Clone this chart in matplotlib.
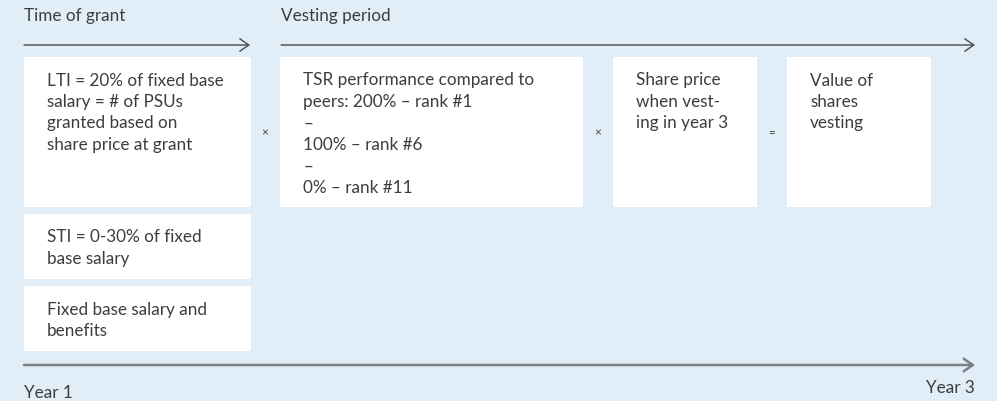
"""
LTI / STI remuneration diagram: time of grant, vesting period and value of shares.
"""

import matplotlib.pyplot as plt
from matplotlib.patches import Rectangle

plt.rcParams["font.family"] = ["Lato", "DejaVu Sans"]

# Texts of the diagram
phase_labels = ["Time of grant", "Vesting period"]
year_labels = ["Year 1", "Year 3"]
grant_boxes = [
    "LTI = 20% of fixed base\nsalary = # of PSUs\ngranted based on\nshare price at grant",
    "STI = 0-30% of fixed\nbase salary",
    "Fixed base salary and\nbenefits",
]
vesting_boxes = [
    "TSR performance compared to\npeers: 200% \u2013 rank #1\n\u2013\n100% \u2013 rank #6\n\u2013\n0% \u2013 rank #11",
    "Share price\nwhen vest-\ning in year 3",
    "Value of\nshares\nvesting",
]
operators = ["\u00d7", "\u00d7", "="]

# Layout in pixels (x0, x1, y0, y1)
grant_geom = [(24, 251, 57, 207), (24, 251, 214, 279), (24, 251, 286, 351)]
vesting_geom = [(280, 583, 57, 207), (613, 757, 57, 207), (787, 931, 57, 207)]
op_x = [265, 598, 772]

BG = "#e1eef8"
TXT = "#3d3d3d"
FS = 12.3

fig = plt.figure(figsize=(9.97, 4.01), dpi=100, facecolor=BG)
ax = fig.add_axes([0, 0, 1, 1])
ax.set_xlim(0, 997)
ax.set_ylim(401, 0)
ax.axis("off")
ax.set_facecolor(BG)


def box(geom, text):
    x0, x1, y0, y1 = geom
    ax.add_patch(Rectangle((x0, y0), x1 - x0, y1 - y0, facecolor="white", edgecolor="none"))
    ax.text(x0 + 23, y0 + 15.5, text, ha="left", va="top", fontsize=FS, color=TXT,
            linespacing=1.42)


for g, t in zip(grant_geom, grant_boxes):
    box(g, t)
for g, t in zip(vesting_geom, vesting_boxes):
    box(g, t)

for x, op in zip(op_x, operators):
    ax.text(x, 133, op, ha="center", va="center", fontsize=8.5, color=TXT)

# phase headers and arrows
ax.text(24, 16, phase_labels[0], ha="left", va="center", fontsize=FS, color=TXT)
ax.text(281, 16, phase_labels[1], ha="left", va="center", fontsize=FS, color=TXT)

head = "->,head_length=0.65,head_width=0.45"
for x0, x1 in [(24, 250), (281, 975)]:
    ax.annotate("", xy=(x1, 45), xytext=(x0, 45),
                arrowprops=dict(arrowstyle=head, lw=1.0, color="#4a4a4a",
                                shrinkA=0, shrinkB=0))

ax.annotate("", xy=(975, 365), xytext=(24, 365),
            arrowprops=dict(arrowstyle=head, lw=1.8, color="#7b8086",
                            shrinkA=0, shrinkB=0))

ax.text(24, 393, year_labels[0], ha="left", va="center", fontsize=FS, color=TXT)
ax.text(975, 388, year_labels[1], ha="right", va="center", fontsize=FS, color=TXT)

fig.savefig("out.png", dpi=100, facecolor=BG)
